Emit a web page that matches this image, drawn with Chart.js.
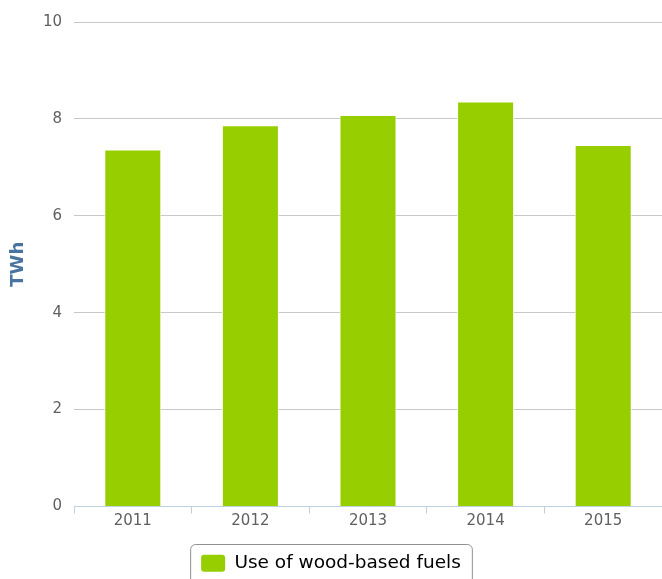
<!DOCTYPE html>
<html>
<head>
<meta charset="utf-8">
<script src="https://cdn.jsdelivr.net/npm/chart.js@4/dist/chart.umd.min.js"></script>
<style>
  html, body { margin: 0; padding: 0; background: #ffffff; }
  #wrap { width: 662px; height: 579px; }
</style>
</head>
<body>
<div id="wrap"><canvas id="c" width="662" height="579"></canvas></div>
<script>
const categories = ['2011', '2012', '2013', '2014', '2015'];
const woodFuels = [7.37, 7.87, 8.08, 8.36, 7.46];
const seriesName = 'Use of wood-based fuels';
const yTicks = [0, 2, 4, 6, 8, 10];
const yTitle = 'TWh';

const FONT = '"DejaVu Sans", Verdana, sans-serif';

const legendFrame = {
  id: 'legendFrame',
  afterDraw(chart) {
    const lg = chart.legend;
    if (!lg || !lg.legendHitBoxes || !lg.legendHitBoxes.length) return;
    const hb = lg.legendHitBoxes[0];
    const ctx = chart.ctx;
    const cy = hb.top + hb.height / 2;
    const x0 = hb.left - 10.5, x1 = hb.left + hb.width + 11.5;
    const y0 = Math.round(cy - 19) + 0.5, y1 = chart.height + 10;
    const r = 5;
    ctx.save();
    ctx.strokeStyle = '#909090';
    ctx.lineWidth = 1;
    ctx.beginPath();
    ctx.moveTo(x0 + r, y0);
    ctx.lineTo(x1 - r, y0);
    ctx.arcTo(x1, y0, x1, y0 + r, r);
    ctx.lineTo(x1, y1);
    ctx.lineTo(x0, y1);
    ctx.lineTo(x0, y0 + r);
    ctx.arcTo(x0, y0, x0 + r, y0, r);
    ctx.stroke();
    ctx.restore();
  }
};

new Chart(document.getElementById('c'), {
  type: 'bar',
  data: {
    labels: categories,
    datasets: [{
      label: seriesName,
      data: woodFuels,
      backgroundColor: '#97ce00',
      borderColor: '#ffffff',
      borderWidth: 1,
      categoryPercentage: 1.0,
      barPercentage: 0.485
    }]
  },
  options: {
    responsive: false,
    animation: false,
    devicePixelRatio: 1,
    layout: { padding: { top: 22, right: 0, bottom: 0, left: 0 } },
    plugins: {
      tooltip: { enabled: false },
      legend: {
        position: 'bottom',
        align: 'center',
        maxHeight: 25,
        labels: {
          padding: 0,
          boxWidth: 24,
          boxHeight: 17,
          useBorderRadius: true,
          borderRadius: 3,
          color: '#2b4c6e',
          font: { family: FONT, size: 18.5 },
          generateLabels(chart) {
            const ds = chart.data.datasets[0];
            return [{
              text: ds.label,
              fillStyle: ds.backgroundColor,
              strokeStyle: ds.backgroundColor,
              lineWidth: 0,
              borderRadius: 3,
              datasetIndex: 0,
              hidden: false
            }];
          }
        }
      }
    },
    scales: {
      x: {
        type: 'category',
        offset: true,
        grid: {
          display: true,
          offset: true,
          drawOnChartArea: false,
          drawTicks: true,
          tickLength: 7,
          color: '#c0d0e0'
        },
        border: { display: true, color: '#c0d0e0', width: 1 },
        ticks: {
          color: '#606060',
          padding: 0,
          font: { family: FONT, size: 15, lineHeight: 1 },
          maxRotation: 0
        },
        afterFit(scale) { scale.height = 47.5; }
      },
      y: {
        min: 0,
        max: 10,
        afterBuildTicks(scale) { scale.ticks = yTicks.map(v => ({ value: v })); },
        grid: {
          color: '#c8c8c8',
          lineWidth: 1,
          drawTicks: false
        },
        border: { display: false },
        ticks: {
          color: '#606060',
          padding: 12,
          font: { family: FONT, size: 15 }
        },
        title: {
          display: true,
          text: yTitle,
          color: '#4a74a0',
          font: { family: FONT, size: 18, weight: 'bold' },
          padding: { top: 8, bottom: 0 }
        },
        afterFit(scale) { scale.width = 74; }
      }
    }
  },
  plugins: [legendFrame]
});
</script>
</body>
</html>
